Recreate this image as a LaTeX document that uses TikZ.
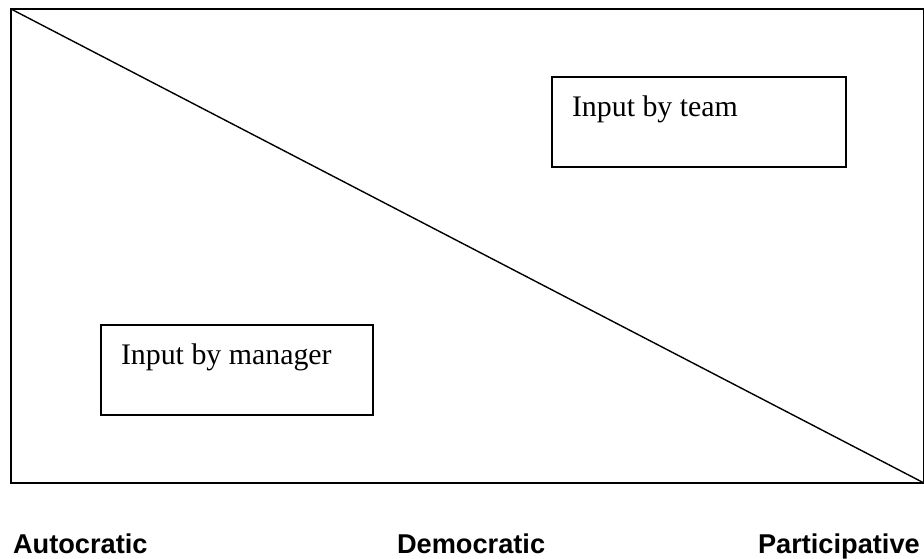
\documentclass[tikz,border=0pt]{standalone}
\usepackage{fontspec}
\setmainfont{Liberation Serif}
\newfontfamily\labelfont{Liberation Sans}
\usetikzlibrary{positioning}

\begin{document}
\begin{tikzpicture}[x=0.75pt,y=-0.75pt,line width=1.05pt,
                    inner sep=0pt,outer sep=0pt]

  \tikzstyle{box}=[rectangle,draw,anchor=north west]
  \tikzstyle{input}=[anchor=base west,font=\fontsize{22.4}{26}\selectfont]
  \tikzstyle{style}=[anchor=base west,font=\labelfont\bfseries\fontsize{20.4}{24}\selectfont]

  \useasboundingbox (0,0) rectangle (924,558);

  \node[box,minimum width=684.75pt,minimum height=355.5pt] (frame) at (11,9) {};

  \node[box,minimum width=220.5pt,minimum height=67.5pt] (team)    at (552,77)  {};
  \node[box,minimum width=204pt,minimum height=67.5pt]   (manager) at (101,325) {};

  \node[input] (teamtext)    at (572,116) {Input by team};
  \node[input] (managertext) at (121,364) {Input by manager};

  \node[style] (auto) at (13,553)  {Autocratic};
  \node[style] (demo) at (397,553) {Democratic};
  \node[style] (part) at (758,553) {Participative};

  \draw (frame.north west) -- (frame.south east);
\end{tikzpicture}
\end{document}
